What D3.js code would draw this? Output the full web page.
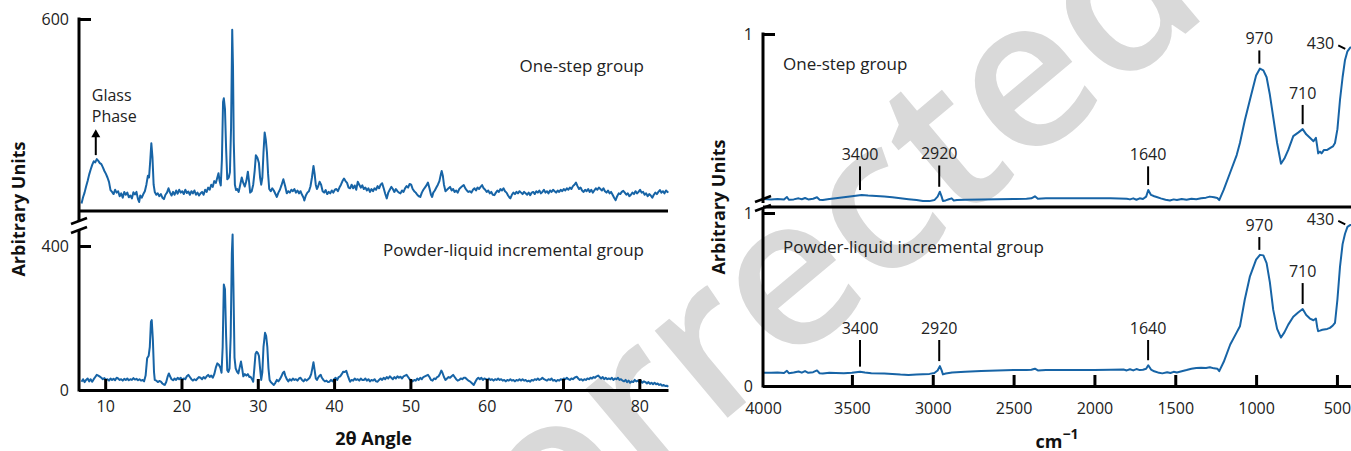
<!DOCTYPE html>
<html>
<head>
<meta charset="utf-8">
<script src="https://cdn.jsdelivr.net/npm/d3@7"></script>
<style>
body { margin: 0; background: #fff; }
svg { display: block; font-family: "Open Sans", sans-serif; }
.line { fill: none; stroke: #1764a6; stroke-width: 2px; stroke-linejoin: round; }
.frame { stroke: #000; stroke-width: 3px; fill: none; }
.axis path { stroke: #000; stroke-width: 3px; }
.axis line { stroke: #000; stroke-width: 3px; }
.axis text { font-family: "Open Sans", sans-serif; font-size: 16px; fill: #222; }
.label { font-size: 17px; fill: #222; }
.peak { font-size: 16px; fill: #222; }
.title { font-size: 18px; font-weight: bold; fill: #111; }
.mark { stroke: #000; stroke-width: 2px; }
</style>
</head>
<body>
<svg id="chart" width="1351" height="451"></svg>
<script>
// ---- XRD (left) ----
var xrdTicks = [10, 20, 30, 40, 50, 60, 70, 80];
var xrdLabels = ["One-step group", "Powder-liquid incremental group"];
var glassPeak = [8.9, 211];

// one-step group, [2theta, counts]
var xrdOneStep = [[6.9,88],[7.1,105],[7.3,118],[7.5,135],[7.7,150],[7.9,168],[8.1,182],[8.3,195],[8.5,205],[8.7,202],[8.9,211],[9.1,206],[9.3,200],[9.5,197],[9.7,188],[9.9,178],[10.1,170],[10.3,160],[10.5,148],[10.7,125],[10.9,120],[11.1,114],[11.3,126],[11.5,118],[11.7,122],[11.9,108],[12.1,116],[12.3,104],[12.5,120],[12.7,112],[12.9,118],[13.1,105],[13.3,110],[13.5,102],[13.7,119],[13.9,113],[14.1,120],[14.3,100],[14.45,92],[14.6,110],[14.8,104],[15.0,114],[15.2,122],[15.4,140],[15.6,165],[15.75,160],[15.9,205],[16.05,255],[16.2,215],[16.35,140],[16.5,120],[16.7,112],[16.9,116],[17.1,108],[17.3,114],[17.5,104],[17.7,100],[17.9,112],[18.1,118],[18.3,130],[18.5,118],[18.7,110],[18.9,120],[19.1,112],[19.3,124],[19.5,115],[19.7,126],[19.9,118],[20.1,122],[20.3,114],[20.5,126],[20.7,117],[20.9,121],[21.1,112],[21.3,122],[21.5,116],[21.7,124],[21.9,112],[22.1,118],[22.3,110],[22.5,116],[22.7,120],[22.9,112],[23.1,126],[23.3,120],[23.5,132],[23.7,126],[23.9,140],[24.1,134],[24.3,150],[24.5,145],[24.7,160],[24.85,172],[25.0,150],[25.15,138],[25.3,210],[25.45,370],[25.55,380],[25.7,350],[25.85,240],[26.0,155],[26.2,160],[26.35,175],[26.5,300],[26.65,570],[26.75,470],[26.85,260],[27.0,140],[27.15,125],[27.3,128],[27.5,120],[27.7,140],[27.9,160],[28.1,145],[28.3,135],[28.5,150],[28.7,176],[28.85,150],[29.0,118],[29.2,122],[29.4,140],[29.6,180],[29.75,222],[29.95,215],[30.15,200],[30.3,160],[30.45,140],[30.6,160],[30.75,230],[30.9,285],[31.05,265],[31.2,230],[31.35,170],[31.5,128],[31.7,122],[31.9,130],[32.1,124],[32.3,115],[32.5,106],[32.7,118],[32.9,126],[33.1,138],[33.35,155],[33.6,135],[33.8,116],[34.0,122],[34.2,118],[34.4,126],[34.6,122],[34.8,128],[35.0,118],[35.2,124],[35.4,116],[35.6,122],[35.8,112],[36.0,104],[36.1,96],[36.3,110],[36.5,118],[36.7,122],[36.9,135],[37.1,160],[37.3,192],[37.45,170],[37.6,140],[37.75,128],[37.9,135],[38.1,148],[38.3,140],[38.5,122],[38.7,118],[38.9,125],[39.1,114],[39.3,120],[39.5,116],[39.7,124],[39.9,118],[40.1,126],[40.3,128],[40.5,122],[40.7,132],[40.9,140],[41.1,150],[41.3,157],[41.5,150],[41.7,145],[41.9,132],[42.1,130],[42.3,140],[42.5,130],[42.7,138],[42.9,126],[43.1,148],[43.3,140],[43.5,132],[43.7,138],[43.9,128],[44.1,132],[44.3,124],[44.5,130],[44.7,120],[44.9,128],[45.1,122],[45.3,130],[45.5,126],[45.7,136],[45.9,130],[46.1,140],[46.3,144],[46.5,130],[46.7,115],[46.9,102],[47.1,118],[47.3,126],[47.5,134],[47.7,128],[47.9,120],[48.1,128],[48.3,122],[48.5,118],[48.7,116],[48.9,124],[49.1,120],[49.3,130],[49.5,136],[49.7,132],[49.9,142],[50.1,140],[50.3,128],[50.5,122],[50.7,118],[50.9,112],[51.1,108],[51.3,106],[51.5,118],[51.7,126],[51.9,132],[52.1,138],[52.3,146],[52.5,130],[52.7,112],[52.85,106],[53.0,118],[53.2,124],[53.4,132],[53.6,140],[53.8,150],[54.0,170],[54.1,178],[54.25,165],[54.4,140],[54.6,122],[54.8,126],[55.0,130],[55.2,134],[55.4,124],[55.6,128],[55.8,120],[56.0,124],[56.2,118],[56.4,128],[56.6,132],[56.8,136],[57.0,139],[57.2,130],[57.4,124],[57.6,120],[57.8,122],[58.0,118],[58.2,126],[58.4,130],[58.6,124],[58.8,132],[59.0,128],[59.2,134],[59.4,139],[59.6,130],[59.8,126],[60.0,120],[60.2,124],[60.4,116],[60.6,120],[60.8,112],[61.0,111],[61.2,118],[61.4,124],[61.6,120],[61.8,128],[62.0,124],[62.2,130],[62.4,122],[62.6,118],[62.8,110],[63.0,104],[63.1,102],[63.3,112],[63.5,118],[63.7,114],[63.9,120],[64.1,116],[64.3,122],[64.5,118],[64.7,114],[64.9,120],[65.1,116],[65.3,112],[65.5,118],[65.7,111],[65.9,118],[66.1,120],[66.3,114],[66.5,122],[66.7,118],[66.9,124],[67.1,116],[67.3,120],[67.5,126],[67.7,118],[67.9,122],[68.1,116],[68.3,124],[68.5,120],[68.7,126],[68.9,122],[69.1,118],[69.3,124],[69.5,120],[69.7,126],[69.9,122],[70.1,128],[70.3,124],[70.5,130],[70.7,126],[70.9,132],[71.1,128],[71.3,136],[71.5,140],[71.7,146],[71.9,136],[72.1,128],[72.3,132],[72.5,124],[72.7,120],[72.9,126],[73.1,122],[73.3,128],[73.5,120],[73.7,126],[73.9,118],[74.1,124],[74.3,130],[74.5,126],[74.7,132],[74.9,128],[75.1,124],[75.3,130],[75.5,122],[75.7,118],[75.9,124],[76.1,116],[76.3,120],[76.5,112],[76.7,104],[76.9,97],[77.1,108],[77.3,116],[77.5,114],[77.7,120],[77.9,123],[78.1,118],[78.3,112],[78.5,116],[78.7,108],[78.9,112],[79.1,118],[79.3,114],[79.5,122],[79.7,116],[79.9,120],[80.1,126],[80.3,118],[80.5,120],[80.7,112],[80.9,116],[81.1,108],[81.3,114],[81.5,110],[81.7,104],[81.9,112],[82.1,118],[82.3,114],[82.5,120],[82.7,125],[82.9,118],[83.1,122],[83.3,116],[83.5,124],[83.7,120],[83.8,118]];

// powder-liquid incremental group, [2theta, counts]
var xrdPowder = [[6.9,23],[7.1,30],[7.3,22],[7.5,28],[7.7,32],[7.9,24],[8.1,30],[8.3,23],[8.5,30],[8.7,36],[8.9,42],[9.1,40],[9.3,37],[9.5,34],[9.7,30],[9.9,33],[10.1,28],[10.3,30],[10.5,26],[10.7,32],[10.9,28],[11.1,31],[11.3,27],[11.5,34],[11.7,32],[11.9,28],[12.1,30],[12.3,26],[12.5,31],[12.7,28],[12.9,32],[13.1,27],[13.3,30],[13.5,28],[13.7,33],[13.9,29],[14.1,31],[14.3,27],[14.5,30],[14.7,26],[14.9,28],[15.1,24],[15.3,40],[15.5,88],[15.7,95],[15.85,120],[16.0,190],[16.1,194],[16.25,140],[16.4,50],[16.5,28],[16.7,26],[16.9,22],[17.1,25],[17.3,23],[17.5,18],[17.7,15],[17.8,14],[18.0,22],[18.2,38],[18.35,46],[18.5,38],[18.7,30],[18.9,27],[19.1,32],[19.3,28],[19.5,34],[19.7,30],[19.9,34],[20.1,28],[20.3,32],[20.5,30],[20.7,38],[20.9,42],[21.1,36],[21.3,30],[21.5,26],[21.7,30],[21.9,27],[22.1,32],[22.3,36],[22.5,34],[22.7,30],[22.9,36],[23.1,32],[23.3,38],[23.5,42],[23.7,36],[23.9,40],[24.1,34],[24.3,44],[24.5,62],[24.7,74],[24.9,70],[25.1,62],[25.25,48],[25.4,120],[25.55,293],[25.7,280],[25.85,150],[26.0,55],[26.15,50],[26.3,60],[26.45,150],[26.6,380],[26.7,432],[26.8,300],[26.95,90],[27.1,60],[27.3,50],[27.45,46],[27.6,60],[27.8,79],[27.95,60],[28.1,38],[28.3,44],[28.5,40],[28.7,44],[28.9,36],[29.05,37],[29.25,30],[29.4,23],[29.55,60],[29.7,100],[29.85,106],[30.0,103],[30.15,95],[30.3,60],[30.45,28],[30.6,50],[30.75,120],[30.95,159],[31.1,150],[31.25,120],[31.4,60],[31.55,28],[31.7,22],[31.9,18],[32.1,14],[32.3,20],[32.5,28],[32.7,24],[32.9,30],[33.1,38],[33.3,48],[33.45,51],[33.6,40],[33.8,30],[34.0,24],[34.2,30],[34.4,26],[34.6,32],[34.8,28],[35.0,30],[35.2,26],[35.4,32],[35.6,34],[35.8,28],[36.0,24],[36.2,30],[36.4,26],[36.6,30],[36.8,34],[37.0,44],[37.15,60],[37.3,77],[37.45,55],[37.6,32],[37.75,28],[37.9,34],[38.1,40],[38.25,42],[38.4,34],[38.6,28],[38.8,24],[39.0,26],[39.2,22],[39.4,23],[39.6,28],[39.8,24],[40.0,30],[40.2,34],[40.4,28],[40.6,36],[40.8,38],[41.0,44],[41.2,51],[41.4,50],[41.6,53],[41.8,40],[42.0,28],[42.1,23],[42.3,28],[42.5,26],[42.7,32],[42.9,28],[43.1,30],[43.3,26],[43.5,32],[43.7,28],[43.9,28],[44.1,32],[44.3,26],[44.5,30],[44.7,24],[44.9,28],[45.1,26],[45.3,30],[45.5,24],[45.7,23],[45.9,28],[46.1,32],[46.3,28],[46.5,34],[46.7,30],[46.9,36],[47.1,32],[47.3,38],[47.5,34],[47.7,30],[47.9,36],[48.1,32],[48.3,38],[48.5,34],[48.7,37],[48.9,32],[49.1,38],[49.3,40],[49.5,42],[49.7,36],[49.9,30],[50.1,26],[50.3,24],[50.5,28],[50.7,26],[50.9,32],[51.1,28],[51.3,34],[51.5,30],[51.7,36],[51.9,38],[52.1,40],[52.3,42],[52.5,36],[52.7,28],[52.9,26],[53.1,32],[53.3,30],[53.5,36],[53.7,38],[53.9,46],[54.05,54],[54.2,48],[54.4,36],[54.6,28],[54.8,32],[55.0,36],[55.2,34],[55.4,38],[55.6,42],[55.8,36],[56.0,30],[56.2,26],[56.4,28],[56.6,32],[56.8,30],[57.0,34],[57.2,34],[57.4,30],[57.6,26],[57.8,24],[58.0,20],[58.2,16],[58.3,14],[58.5,22],[58.7,30],[58.9,34],[59.1,30],[59.3,34],[59.5,28],[59.7,32],[59.9,30],[60.1,28],[60.3,32],[60.5,28],[60.7,30],[60.9,26],[61.1,30],[61.3,28],[61.5,32],[61.7,28],[61.9,30],[62.1,26],[62.3,28],[62.5,24],[62.7,28],[62.9,26],[63.1,30],[63.3,26],[63.5,28],[63.7,24],[63.9,28],[64.1,26],[64.3,30],[64.5,26],[64.7,30],[64.9,26],[65.1,28],[65.3,24],[65.5,26],[65.7,23],[65.9,28],[66.1,26],[66.3,30],[66.5,28],[66.7,32],[66.9,28],[67.1,30],[67.3,34],[67.5,30],[67.7,28],[67.9,26],[68.1,30],[68.3,28],[68.5,32],[68.7,26],[68.9,28],[69.1,24],[69.3,28],[69.5,26],[69.7,30],[69.9,28],[70.1,32],[70.3,30],[70.5,34],[70.7,30],[70.9,28],[71.1,32],[71.3,30],[71.5,34],[71.8,37],[72.0,32],[72.2,28],[72.4,30],[72.6,26],[72.8,30],[73.0,28],[73.2,32],[73.4,30],[73.6,34],[73.8,32],[74.0,36],[74.2,34],[74.4,38],[74.6,40],[74.8,36],[75.0,32],[75.2,36],[75.4,30],[75.6,34],[75.8,30],[76.0,32],[76.2,30],[76.4,34],[76.6,28],[76.8,32],[77.0,30],[77.2,34],[77.4,28],[77.6,30],[77.8,26],[78.0,24],[78.2,28],[78.4,22],[78.6,26],[78.8,20],[79.0,24],[79.2,22],[79.4,28],[79.6,24],[79.8,26],[80.0,22],[80.2,26],[80.4,20],[80.6,24],[80.8,22],[81.0,18],[81.2,22],[81.4,17],[81.6,20],[81.8,16],[82.0,20],[82.2,16],[82.4,18],[82.6,14],[82.8,16],[83.0,12],[83.2,14],[83.4,11],[83.6,12],[83.8,9]];

// ---- FTIR (right) ----
var irTicks = [4000, 3500, 3000, 2500, 2000, 1500, 1000, 500];
var irPeakLabels = ["3400", "2920", "1640", "970", "710"];
var irPeakPos = [3450, 2960, 1668, 980, 712];
var irPeakTopOne = [0.235, 0.24, 0.235, 0.905, 0.59];
var irPeakTopPowder = [0.266, 0.266, 0.266, 0.861, 0.595];

// one-step group, [wavenumber, absorbance]
var irOneStep = [[4050,0.046],[4000,0.044],[3960,0.046],[3920,0.043],[3902,0.058],[3890,0.042],[3860,0.044],[3830,0.05],[3810,0.045],[3790,0.052],[3770,0.044],[3740,0.048],[3716,0.056],[3700,0.042],[3680,0.04],[3640,0.046],[3600,0.05],[3550,0.056],[3500,0.062],[3440,0.069],[3400,0.066],[3350,0.064],[3300,0.06],[3250,0.056],[3200,0.05],[3150,0.045],[3100,0.04],[3061,0.035],[3020,0.034],[2990,0.04],[2970,0.06],[2956,0.088],[2945,0.06],[2937,0.035],[2920,0.038],[2900,0.045],[2883,0.05],[2870,0.038],[2850,0.04],[2800,0.042],[2700,0.044],[2600,0.045],[2500,0.046],[2420,0.047],[2390,0.05],[2368,0.062],[2350,0.048],[2300,0.05],[2200,0.05],[2100,0.05],[2000,0.05],[1900,0.05],[1800,0.048],[1780,0.044],[1760,0.05],[1740,0.042],[1720,0.05],[1700,0.046],[1680,0.06],[1667,0.098],[1650,0.07],[1630,0.062],[1615,0.058],[1590,0.05],[1560,0.042],[1533,0.038],[1510,0.044],[1490,0.04],[1460,0.046],[1430,0.042],[1400,0.048],[1370,0.045],[1340,0.05],[1310,0.054],[1286,0.06],[1260,0.056],[1240,0.052],[1228,0.04],[1200,0.1],[1162,0.195],[1120,0.3],[1100,0.37],[1070,0.5],[1038,0.62],[1000,0.76],[976,0.80],[955,0.79],[935,0.75],[915,0.65],[894,0.52],[870,0.37],[846,0.25],[825,0.28],[801,0.33],[770,0.41],[740,0.43],[712,0.45],[690,0.42],[667,0.40],[645,0.38],[630,0.40],[622,0.35],[616,0.31],[605,0.32],[595,0.31],[580,0.33],[560,0.33],[543,0.34],[525,0.35],[512,0.37],[497,0.45],[481,0.62],[465,0.75],[450,0.85],[435,0.90],[419,0.92],[413,0.925]];

// powder-liquid incremental group, [wavenumber, absorbance]
var irPowder = [[4050,0.077],[4000,0.076],[3960,0.078],[3920,0.075],[3902,0.088],[3890,0.074],[3860,0.078],[3830,0.084],[3810,0.077],[3790,0.086],[3770,0.076],[3740,0.08],[3716,0.09],[3700,0.074],[3680,0.072],[3640,0.076],[3600,0.075],[3550,0.074],[3500,0.076],[3450,0.083],[3420,0.078],[3380,0.074],[3300,0.072],[3250,0.07],[3200,0.066],[3150,0.064],[3100,0.066],[3061,0.068],[3020,0.07],[2990,0.075],[2970,0.09],[2956,0.115],[2945,0.09],[2937,0.067],[2920,0.072],[2880,0.078],[2800,0.082],[2700,0.086],[2600,0.09],[2500,0.092],[2420,0.092],[2390,0.094],[2368,0.1],[2350,0.09],[2300,0.092],[2200,0.092],[2100,0.093],[2000,0.093],[1900,0.094],[1820,0.095],[1800,0.09],[1780,0.097],[1760,0.09],[1740,0.098],[1720,0.092],[1700,0.094],[1680,0.1],[1667,0.12],[1650,0.095],[1630,0.085],[1600,0.076],[1580,0.073],[1550,0.08],[1530,0.075],[1510,0.082],[1490,0.078],[1460,0.085],[1430,0.092],[1400,0.1],[1370,0.104],[1340,0.106],[1310,0.104],[1286,0.108],[1260,0.102],[1240,0.1],[1228,0.086],[1200,0.14],[1160,0.24],[1120,0.31],[1100,0.345],[1070,0.5],[1038,0.634],[1000,0.73],[976,0.758],[955,0.755],[935,0.71],[915,0.6],[894,0.44],[870,0.33],[846,0.28],[825,0.31],[801,0.355],[770,0.40],[740,0.425],[712,0.445],[690,0.41],[667,0.39],[645,0.38],[630,0.39],[622,0.34],[616,0.317],[605,0.32],[590,0.325],[560,0.33],[543,0.336],[525,0.35],[512,0.365],[497,0.5],[481,0.69],[465,0.82],[450,0.88],[435,0.92],[419,0.93],[413,0.93]];

var svg = d3.select("#chart");
var plain = d3.format("d");

// watermark behind everything
svg.append("text")
    .attr("transform", "translate(445,655) rotate(-40)")
    .style("font-size", "210px")
    .style("font-weight", "600")
    .style("fill", "#d9d9d9")
    .text("Corrected");

function breakMarks(g, x, ys) {
    ys.forEach(function(y) {
        g.append("line").attr("class", "frame").style("stroke-width", "2.5px")
            .attr("x1", x - 8).attr("y1", y + 3)
            .attr("x2", x + 8).attr("y2", y - 3);
    });
}

function vline(g, x, y1, y2) {
    g.append("line").attr("class", "frame")
        .attr("x1", x).attr("x2", x).attr("y1", y1).attr("y2", y2);
}

// ================= left: XRD =================
var x1 = d3.scaleLinear().domain([6.57, 83.76]).range([79, 668]);
var yTop1 = d3.scaleLinear().domain([67, 600]).range([211, 19]);
var yBot1 = d3.scaleLinear().domain([0, 450]).range([390, 228]);

var g1 = svg.append("g");

var lineTop1 = d3.line()
    .x(function(d) { return x1(d[0]); })
    .y(function(d) { return yTop1(d[1]); });
var lineBot1 = d3.line()
    .x(function(d) { return x1(d[0]); })
    .y(function(d) { return yBot1(d[1]); });

g1.append("path").datum(xrdOneStep).attr("class", "line").attr("d", lineTop1);
g1.append("path").datum(xrdPowder).attr("class", "line").attr("d", lineBot1);

// top panel frame
vline(g1, 79, yTop1(600) - 1.5, 221);
g1.append("line").attr("class", "frame")
    .attr("x1", 79).attr("x2", 668).attr("y1", 211).attr("y2", 211);
g1.append("g").attr("class", "axis")
    .attr("transform", "translate(79,0)")
    .call(d3.axisLeft(yTop1).tickValues([600]).tickFormat(plain).tickSize(-12).tickPadding(10))
    .select(".domain").remove();

// bottom panel frame
vline(g1, 79, 230, 391.5);
g1.append("g").attr("class", "axis")
    .attr("transform", "translate(79,0)")
    .call(d3.axisLeft(yBot1).tickValues([0, 400]).tickFormat(plain).tickSize(-12).tickPadding(10))
    .select(".domain").remove();
g1.append("g").attr("class", "axis")
    .attr("transform", "translate(0,390)")
    .call(d3.axisBottom(x1).tickValues(xrdTicks).tickFormat(plain).tickSize(-11).tickSizeOuter(0).tickPadding(11));

breakMarks(g1, 79, [221, 230]);

g1.append("text").attr("class", "label").attr("text-anchor", "end")
    .attr("x", 644).attr("y", 72).text(xrdLabels[0]);
g1.append("text").attr("class", "label").attr("text-anchor", "end")
    .attr("x", 644).attr("y", 256).text(xrdLabels[1]);

// glass phase note
var gx = x1(glassPeak[0]) - 1, gy = yTop1(glassPeak[1]);
g1.append("line").attr("class", "mark")
    .attr("x1", gx).attr("x2", gx).attr("y1", gy - 4).attr("y2", gy - 24);
g1.append("path")
    .attr("d", "M" + (gx - 4.5) + "," + (gy - 22) + "L" + gx + "," + (gy - 30) + "L" + (gx + 4.5) + "," + (gy - 22) + "Z")
    .attr("fill", "#000");
g1.append("text").attr("class", "peak").attr("x", gx - 4).attr("y", 101).text("Glass");
g1.append("text").attr("class", "peak").attr("x", gx - 4).attr("y", 122).text("Phase");

g1.append("text").attr("class", "title").attr("text-anchor", "middle")
    .attr("x", 373.5).attr("y", 445).text("2θ Angle");
g1.append("text").attr("class", "title").attr("text-anchor", "middle")
    .attr("transform", "translate(25,209) rotate(-90)").text("Arbitrary Units");

// ================= right: FTIR =================
var x2 = d3.scaleLinear().domain([4050, 413]).range([763, 1351]);
var yTop2 = d3.scaleLinear().domain([0, 1]).range([207, 34]);
var yBot2 = d3.scaleLinear().domain([0, 1]).range([386, 213]);

var g2 = svg.append("g");

var lineTop2 = d3.line()
    .x(function(d) { return x2(d[0]); })
    .y(function(d) { return yTop2(d[1]); });
var lineBot2 = d3.line()
    .x(function(d) { return x2(d[0]); })
    .y(function(d) { return yBot2(d[1]); });

g2.append("path").datum(irOneStep).attr("class", "line").attr("d", lineTop2);
g2.append("path").datum(irPowder).attr("class", "line").attr("d", lineBot2);

vline(g2, 763, yTop2(1) - 1.5, 203);
g2.append("line").attr("class", "frame")
    .attr("x1", 763).attr("x2", 1351).attr("y1", 207).attr("y2", 207);
g2.append("g").attr("class", "axis")
    .attr("transform", "translate(763,0)")
    .call(d3.axisLeft(yTop2).tickValues([1]).tickFormat(plain).tickSize(-12).tickPadding(10))
    .select(".domain").remove();

vline(g2, 763, 209, 387.5);
g2.append("g").attr("class", "axis")
    .attr("transform", "translate(763,0)")
    .call(d3.axisLeft(yBot2).tickValues([0, 1]).tickFormat(plain).tickSize(-12).tickPadding(10))
    .select(".domain").remove();
var xAxis2 = g2.append("g").attr("class", "axis")
    .attr("transform", "translate(0,386)")
    .call(d3.axisBottom(x2).tickValues(irTicks).tickFormat(plain).tickSize(-11).tickSizeOuter(0).tickPadding(17));
// 4000 label sits at the corner with no tick mark
xAxis2.selectAll(".tick").filter(function(d) { return d === 4000; })
    .each(function() {
        d3.select(this).select("line").remove();
        d3.select(this).select("text").attr("x", x2.range()[0] - x2(4000));
    });

breakMarks(g2, 763, [199, 208]);

g2.append("text").attr("class", "label")
    .attr("x", 783).attr("y", 70).text(xrdLabels[0]);
g2.append("text").attr("class", "label")
    .attr("x", 783).attr("y", 253).text(xrdLabels[1]);

function valueAt(series, wn) {
    var best = series[0];
    series.forEach(function(d) {
        if (Math.abs(d[0] - wn) < Math.abs(best[0] - wn)) best = d;
    });
    return best[1];
}

function peakMarks(series, y, tops) {
    irPeakLabels.forEach(function(lab, i) {
        var px = x2(irPeakPos[i]);
        var yb = y(valueAt(series, irPeakPos[i])) - 5;
        var yt = y(tops[i]);
        g2.append("line").attr("class", "mark")
            .attr("x1", px).attr("x2", px).attr("y1", yb).attr("y2", yt);
        g2.append("text").attr("class", "peak").attr("text-anchor", "middle")
            .attr("x", px).attr("y", yt - 6).text(lab);
    });
    // 430 band at the right edge
    var ex = x2(430), ey = y(valueAt(series, 430));
    g2.append("line").attr("class", "mark")
        .attr("x1", ex - 10).attr("y1", ey - 6).attr("x2", ex - 3).attr("y2", ey - 2.5);
    g2.append("text").attr("class", "peak").attr("text-anchor", "end")
        .attr("x", ex - 14).attr("y", ey - 2).text("430");
}
peakMarks(irOneStep, yTop2, irPeakTopOne);
peakMarks(irPowder, yBot2, irPeakTopPowder);

var t2 = g2.append("text").attr("class", "title").attr("text-anchor", "middle")
    .attr("x", 1057).attr("y", 448);
t2.append("tspan").text("cm");
t2.append("tspan").attr("dy", -9).style("font-size", "14px").text("−1");
g2.append("text").attr("class", "title").attr("text-anchor", "middle")
    .attr("transform", "translate(725,207) rotate(-90)").text("Arbitrary Units");
</script>
</body>
</html>
